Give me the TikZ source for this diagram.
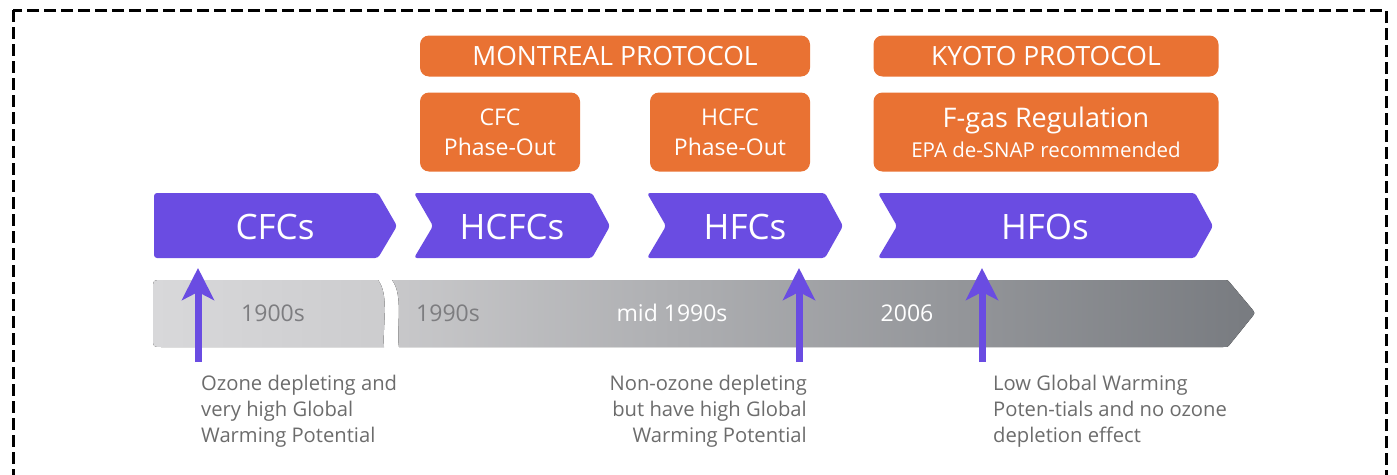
\documentclass[tikz,border=0pt]{standalone}
\usepackage{fontspec}
\setmainfont{Open Sans}
\usetikzlibrary{arrows.meta}
\definecolor{orng}{RGB}{233,114,51}
\definecolor{purp}{RGB}{106,76,226}
\definecolor{txtgray}{RGB}{108,108,108}
\definecolor{yeargray}{RGB}{125,125,128}
\definecolor{barA}{RGB}{216,216,218}
\definecolor{barB}{RGB}{204,204,206}
\definecolor{barC}{RGB}{200,200,202}
\definecolor{barD}{RGB}{120,123,128}
\tikzset{
  border/.style={draw=black, line width=3pt, dash pattern=on 12pt off 5pt},
  obox/.style={fill=orng, rounded corners=9pt, text=white, align=center, inner sep=0pt},
  chev/.style={fill=purp, rounded corners=3pt},
  chevtext/.style={text=white, font=\fontsize{35}{40}\selectfont},
  yeartext/.style={font=\fontsize{23}{26}\selectfont},
  uparrow/.style={draw=purp, line width=7pt, -{Stealth[length=32pt,width=32pt,inset=8pt]}},
  note/.style={text=txtgray, inner sep=0pt, font=\fontsize{20.2}{26}\selectfont}
}
\begin{document}
\begin{tikzpicture}[x=1pt,y=-1pt]
\useasboundingbox (0,0) rectangle (1397,474);
\begin{scope}
\clip (0,0) rectangle (1397,474);
\draw[border] (13,10) rectangle (1386,520);
\end{scope}

% Orange regulation boxes
\node[obox, minimum width=390pt, minimum height=41pt, font=\fontsize{26.5}{30}\selectfont] (montreal) at (615,56) {MONTREAL PROTOCOL};
\node[obox, minimum width=345pt, minimum height=41pt, font=\fontsize{26.5}{30}\selectfont] (kyoto) at (1046,56) {KYOTO PROTOCOL};
\node[obox, minimum width=160pt, minimum height=79pt, font=\fontsize{23}{30}\selectfont] (cfcout) at (500,132) {CFC\\Phase-Out};
\node[obox, minimum width=160pt, minimum height=79pt, font=\fontsize{23}{30}\selectfont] (hcfcout) at (730,132) {HCFC\\Phase-Out};
\node[obox, minimum width=345pt, minimum height=79pt, font=\fontsize{20}{30}\selectfont] (fgas) at (1046,132) {{\fontsize{27}{30}\selectfont F-gas Regulation}\\{\fontsize{20.5}{24}\selectfont EPA de-SNAP recommended}};

% Purple chevrons
\fill[chev] (154,193) -- (378,193) -- (397,226) -- (378,258) -- (154,258) -- cycle;
\node[chevtext] (cfcs) at (275,227) {CFCs};
\fill[chev] (414,193) -- (592,193) -- (610,226) -- (592,258) -- (414,258) -- (433,226) -- cycle;
\node[chevtext] (hcfcs) at (512,227) {HCFCs};
\fill[chev] (647,193) -- (825,193) -- (843,226) -- (825,258) -- (647,258) -- (666,226) -- cycle;
\node[chevtext] (hfcs) at (745,227) {HFCs};
\fill[chev] (878,193) -- (1195,193) -- (1213,226) -- (1195,258) -- (878,258) -- (897,226) -- cycle;
\node[chevtext] (hfos) at (1045,227) {HFOs};

% Gray timeline bar
\fill[left color=barA, right color=barB]
  (378,280) -- (162,280) .. controls (153,280) .. (153,289) -- (153,338)
  .. controls (153,347) .. (162,347) -- (384,347)
  .. controls (382,330) and (390,295) .. (378,280) -- cycle;
\fill[left color=barC, right color=barD]
  (392,280) -- (1223,280) .. controls (1228,280) .. (1231,284) -- (1252,309)
  .. controls (1255,313) .. (1252,317) -- (1231,343)
  .. controls (1228,347) .. (1223,347) -- (399,347)
  .. controls (396,330) and (404,295) .. (392,280) -- cycle;
\node[yeartext, text=yeargray] (y1900) at (273,313) {1900s};
\node[yeartext, text=yeargray] (y1990) at (448,313) {1990s};
\node[yeartext, text=white] (ymid) at (672,313) {mid 1990s};
\node[yeartext, text=white] (y2006) at (907,313) {2006};

% Arrows
\coordinate (a1s) at (198,362); \coordinate (a1e) at (198,268);
\coordinate (a2s) at (799,362); \coordinate (a2e) at (799,268);
\coordinate (a3s) at (982,362); \coordinate (a3e) at (982,268);
\draw[uparrow] (a1s) -- (a1e);
\draw[uparrow] (a2s) -- (a2e);
\draw[uparrow] (a3s) -- (a3e);

% Notes
\node[note, anchor=north west, align=left] (n1) at (201,375) {Ozone depleting and\\very high Global\\Warming Potential};
\node[note, anchor=north east, align=right] (n2) at (807,375) {Non-ozone depleting\\but have high Global\\Warming Potential};
\node[note, anchor=north west, align=left] (n3) at (993,375) {Low Global Warming\\Poten-tials and no ozone\\depletion effect};
\end{tikzpicture}
\end{document}
